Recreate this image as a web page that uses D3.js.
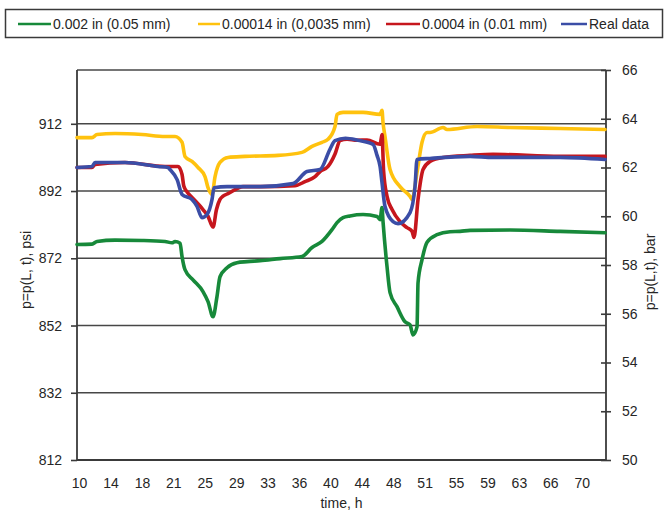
<!DOCTYPE html>
<html>
<head>
<meta charset="utf-8">
<script src="https://cdn.jsdelivr.net/npm/d3@7"></script>
<style>
  html, body { margin: 0; padding: 0; background: #fff; }
  svg { display: block; font-family: "Liberation Sans", Arial, sans-serif; }
</style>
</head>
<body>
<svg id="chart" width="667" height="514"></svg>
<script>
// Pressure at the end of the line p = p(L, t) for three roughness values vs. measured data
// Each point: [time in hours, pressure in psi]
const seriesNames = ["0.002 in (0.05 mm)", "0.00014 in (0,0035 mm)", "0.0004 in (0.01 mm)", "Real data"];
const seriesColors = ["#17893a", "#ffc20e", "#c6161d", "#3b4da6"];

const rough002 = [
  [9.75, 876.1], [11.54, 876.2], [12.14, 877.0], [14.29, 877.4], [17.51, 877.3], [20.26, 877.0],
  [21.09, 876.6], [21.45, 877.0], [22.05, 876.5], [22.29, 872.5], [22.64, 868.6], [23.6, 865.6],
  [24.79, 862.1], [25.39, 859.1], [25.99, 854.6], [26.46, 860.6], [26.82, 866.5], [27.66, 869.2],
  [28.85, 870.7], [30.05, 871.0], [31.6, 871.3], [33.99, 871.9], [36.61, 872.5], [37.81, 875.2],
  [39.0, 877.0], [40.19, 880.5], [40.79, 882.6], [41.51, 884.1], [42.34, 884.6], [43.9, 885.0],
  [45.57, 884.4], [45.93, 883.5], [46.16, 887.1], [46.28, 883.0], [46.76, 869.5], [47.12, 861.8],
  [47.95, 857.6], [48.91, 853.1], [49.51, 852.2], [49.86, 849.2], [50.34, 851.6], [50.46, 864.7],
  [50.94, 871.6], [51.54, 876.8], [52.73, 879.0], [54.28, 879.9], [55.48, 880.0], [56.67, 880.3],
  [61.45, 880.4], [67.42, 880.0], [72.79, 879.6]
];

const rough00014 = [
  [9.75, 907.9], [11.54, 907.9], [12.14, 908.8], [14.29, 909.1], [17.51, 908.8], [20.26, 908.2],
  [21.45, 908.2], [22.29, 906.5], [22.64, 902.3], [23.48, 900.8], [24.2, 899.0], [25.03, 896.3],
  [25.39, 893.0], [25.87, 891.0], [26.23, 896.3], [26.82, 900.5], [27.78, 902.0], [29.81, 902.3],
  [33.75, 902.6], [36.61, 903.5], [37.81, 905.3], [39.0, 906.5], [39.72, 907.4], [40.55, 911.2],
  [40.79, 914.8], [41.51, 915.4], [43.9, 915.4], [45.93, 914.8], [46.16, 916.0], [46.28, 912.4],
  [46.52, 908.2], [47.12, 898.4], [48.31, 893.3], [49.51, 890.4], [49.75, 889.5], [50.34, 897.5],
  [50.94, 906.5], [51.54, 909.4], [51.89, 909.4], [53.45, 910.9], [53.92, 910.3], [57.51, 911.2],
  [61.45, 910.9], [67.42, 910.6], [72.79, 910.3]
];

const rough0004 = [
  [9.75, 899.0], [11.54, 899.0], [11.9, 899.9], [15.48, 900.5], [20.26, 899.3], [21.81, 899.3],
  [22.29, 896.9], [22.5, 893.5], [22.88, 891.8], [23.48, 890.1], [24.79, 886.5], [25.39, 884.5],
  [25.99, 881.3], [26.4, 886.5], [26.82, 889.5], [27.18, 890.5], [27.78, 891.2], [29.57, 893.3],
  [31.84, 893.3], [35.78, 893.6], [36.97, 894.8], [38.17, 896.3], [38.76, 897.8], [39.72, 899.3],
  [40.55, 903.0], [41.15, 907.0], [41.99, 907.4], [43.18, 907.1], [44.37, 907.2], [45.93, 905.9],
  [46.16, 908.8], [46.35, 898.0], [46.76, 890.4], [47.36, 886.5], [48.31, 882.9], [49.15, 881.1],
  [49.75, 880.0], [49.98, 878.2], [50.46, 889.5], [51.06, 898.4], [51.89, 900.8], [53.45, 902.0],
  [56.67, 902.6], [59.42, 902.9], [67.42, 902.3], [72.79, 902.3]
];

const realData = [
  [9.75, 899.0], [11.54, 899.3], [11.9, 900.5], [15.48, 900.5], [19.42, 899.3], [20.61, 899.0],
  [20.85, 898.4], [21.7, 895.4], [22.29, 891.0], [23.48, 889.5], [24.08, 887.4], [24.67, 884.1],
  [25.27, 885.0], [25.87, 889.5], [26.11, 893.0], [27.66, 893.3], [31.6, 893.3], [35.54, 894.2],
  [37.21, 897.8], [38.76, 898.4], [39.96, 904.5], [40.55, 907.0], [41.8, 907.7], [43.3, 907.1],
  [45.09, 905.9], [45.57, 902.6], [45.93, 899.3], [46.16, 894.5], [46.52, 887.4], [47.48, 882.9],
  [48.07, 882.3], [49.51, 885.6], [50.1, 893.3], [50.34, 901.4], [51.89, 901.7], [56.67, 902.3],
  [59.42, 902.0], [67.42, 902.0], [72.79, 901.4]
];

const seriesData = [rough002, rough00014, rough0004, realData];

// Axis ticks and labels
const xTickHours = [10, 13.75, 17.5, 21.25, 25, 28.75, 32.5, 36.25, 40, 43.75, 47.5, 51.25, 55, 58.75, 62.5, 66.25, 70];
const xTickLabels = ["10", "14", "18", "21", "25", "29", "33", "36", "40", "44", "48", "51", "55", "59", "63", "66", "70"];
const psiTicks = [812, 832, 852, 872, 892, 912];
const barTicks = [50, 52, 54, 56, 58, 60, 62, 64, 66];

const svg = d3.select("#chart");
const plot = { left: 77, right: 606, top: 70, bottom: 460 };

const x = d3.scaleLinear().domain([9.75, 72.9]).range([plot.left, plot.right]);
const yPsi = d3.scaleLinear().domain([812, 928]).range([plot.bottom, plot.top]);
const yBar = d3.scaleLinear().domain([50, 66]).range([plot.bottom, plot.top]);

const axisColor = "#3a3a3a";
const textColor = "#262626";

// Horizontal grid lines at the psi ticks
svg.append("g")
  .selectAll("line")
  .data(psiTicks.slice(1))
  .join("line")
  .attr("x1", plot.left).attr("x2", plot.right)
  .attr("y1", d => yPsi(d)).attr("y2", d => yPsi(d))
  .attr("stroke", "#474747").attr("stroke-width", 1.6);

// Top border of the plot area
svg.append("line")
  .attr("x1", plot.left).attr("x2", plot.right)
  .attr("y1", plot.top).attr("y2", plot.top)
  .attr("stroke", "#474747").attr("stroke-width", 1.6);

// Left axis (psi)
const leftAxis = svg.append("g")
  .attr("transform", `translate(${plot.left},0)`)
  .call(d3.axisLeft(yPsi).tickValues(psiTicks).tickSize(6).tickPadding(9).tickFormat(d3.format("d")));
leftAxis.select(".domain").attr("stroke", axisColor).attr("stroke-width", 1.8).attr("d", `M0,${plot.top}V${plot.bottom}`);
leftAxis.selectAll(".tick line").attr("stroke", axisColor).attr("stroke-width", 1.6);
leftAxis.selectAll(".tick text").attr("fill", textColor).style("font-size", "14px");

// Right axis (bar), ticks cross the axis line
const rightAxis = svg.append("g")
  .attr("transform", `translate(${plot.right},0)`)
  .call(d3.axisRight(yBar).tickValues(barTicks).tickSize(5).tickPadding(11).tickFormat(d3.format("d")));
rightAxis.select(".domain").attr("stroke", axisColor).attr("stroke-width", 1.8).attr("d", `M0,${plot.top}V${plot.bottom}`);
rightAxis.selectAll(".tick line").attr("stroke", axisColor).attr("stroke-width", 1.6).attr("x1", -5);
rightAxis.selectAll(".tick text").attr("fill", textColor).style("font-size", "14px");

// Bottom axis (time)
const bottomAxis = svg.append("g")
  .attr("transform", `translate(0,${plot.bottom})`)
  .call(d3.axisBottom(x).tickValues(xTickHours).tickSize(0).tickPadding(18)
    .tickFormat((d, i) => xTickLabels[i]));
bottomAxis.select(".domain").attr("stroke", axisColor).attr("stroke-width", 1.8).attr("d", `M${plot.left},0H${plot.right}`);
bottomAxis.selectAll(".tick text").attr("fill", textColor).style("font-size", "14px");

// Axis titles
svg.append("text")
  .attr("transform", `translate(31,${(plot.top + plot.bottom) / 2 + 5}) rotate(-90)`)
  .attr("text-anchor", "middle").attr("fill", textColor).style("font-size", "14px")
  .text("p=p(L, t), psi");
svg.append("text")
  .attr("transform", `translate(655,${(plot.top + plot.bottom) / 2 + 7}) rotate(-90)`)
  .attr("text-anchor", "middle").attr("fill", textColor).style("font-size", "14px")
  .text("p=p(L,t), bar");
svg.append("text")
  .attr("x", (plot.left + plot.right) / 2).attr("y", 508)
  .attr("text-anchor", "middle").attr("fill", textColor).style("font-size", "14px")
  .text("time, h");

// Pressure curves, smoothed without overshoot
const line = d3.line().curve(d3.curveMonotoneX).x(d => x(d[0])).y(d => yPsi(d[1]));
svg.append("g")
  .selectAll("path")
  .data(seriesData)
  .join("path")
  .attr("d", line)
  .attr("fill", "none")
  .attr("stroke", (d, i) => seriesColors[i])
  .attr("stroke-width", 3.6)
  .attr("stroke-linejoin", "round")
  .attr("stroke-linecap", "round");

// Legend
const legend = svg.append("g");
legend.append("rect")
  .attr("x", 5.5).attr("y", 9.5).attr("width", 657).attr("height", 28)
  .attr("fill", "#fff").attr("stroke", "#3a3a3a").attr("stroke-width", 1.5);
const legendX = [18, 198, 386, 561];
const legendLineW = [33, 22, 34, 26];
seriesNames.forEach((name, i) => {
  const g = legend.append("g").attr("transform", `translate(${legendX[i]},0)`);
  g.append("line")
    .attr("x1", 0).attr("x2", legendLineW[i]).attr("y1", 24).attr("y2", 24)
    .attr("stroke", seriesColors[i]).attr("stroke-width", 2.5);
  g.append("text")
    .attr("x", legendLineW[i] + 2).attr("y", 29)
    .attr("fill", textColor).style("font-size", "14px")
    .text(name);
});
</script>
</body>
</html>
